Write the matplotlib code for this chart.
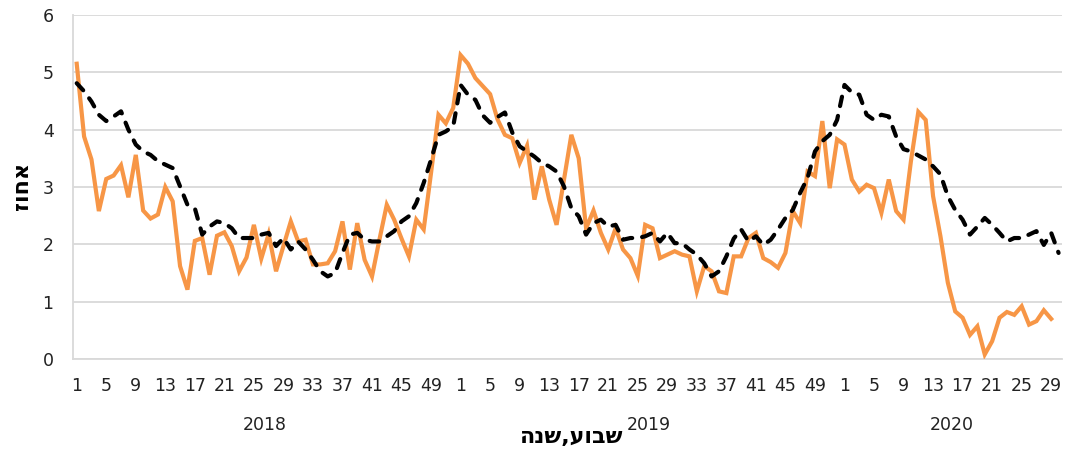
import numpy as np
import matplotlib
matplotlib.use('Agg')
import matplotlib.pyplot as plt

# week numbers per year (categories on the x axis)
years = ['2018', '2019', '2020']
weeks_per_year = [52, 52, 30]

# orange solid series (ends one week before the dashed one)
actual = [
    5.15, 3.88, 3.48, 2.58, 3.14, 3.20, 3.38, 2.82, 3.56, 2.59, 2.45, 2.52, 3.00,
    2.75, 1.62, 1.21, 2.06, 2.11, 1.47, 2.15, 2.21, 1.97, 1.53, 1.77, 2.34, 1.75,
    2.18, 1.53, 1.97, 2.40, 2.05, 2.08, 1.65, 1.65, 1.67, 1.88, 2.40, 1.56, 2.37,
    1.73, 1.44, 2.08, 2.69, 2.43, 2.10, 1.79, 2.43, 2.26, 3.25, 4.26, 4.11, 4.38,
    5.30, 5.15, 4.90, 4.76, 4.62, 4.18, 3.91, 3.85, 3.42, 3.72, 2.78, 3.36, 2.78,
    2.34, 3.12, 3.91, 3.50, 2.28, 2.59, 2.20, 1.91, 2.28, 1.91, 1.76, 1.45, 2.34,
    2.28, 1.76, 1.82, 1.88, 1.82, 1.79, 1.18, 1.62, 1.53, 1.18, 1.15, 1.79, 1.79,
    2.11, 2.20, 1.76, 1.69, 1.59, 1.85, 2.58, 2.37, 3.27, 3.19, 4.15, 2.98, 3.83,
    3.74, 3.13, 2.92, 3.04, 2.98, 2.55, 3.13, 2.58, 2.43, 3.45, 4.31, 4.17, 2.84,
    2.14, 1.33, 0.83, 0.72, 0.42, 0.57, 0.08, 0.31, 0.72, 0.82, 0.77, 0.92, 0.60,
    0.66, 0.85, 0.70,
]

# black dashed series
baseline = [
    4.81, 4.67, 4.49, 4.26, 4.15, 4.23, 4.32, 4.00, 3.74, 3.62, 3.56, 3.45, 3.39,
    3.33, 3.01, 2.69, 2.63, 2.17, 2.31, 2.40, 2.37, 2.28, 2.11, 2.11, 2.11, 2.17,
    2.20, 1.97, 2.11, 1.91, 2.05, 1.91, 1.73, 1.53, 1.44, 1.50, 1.85, 2.17, 2.20,
    2.08, 2.05, 2.05, 2.14, 2.23, 2.40, 2.49, 2.72, 3.07, 3.48, 3.91, 3.97, 4.06,
    4.78, 4.61, 4.52, 4.25, 4.12, 4.22, 4.30, 3.95, 3.71, 3.62, 3.53, 3.42, 3.36,
    3.27, 3.01, 2.63, 2.49, 2.17, 2.37, 2.43, 2.31, 2.34, 2.08, 2.11, 2.11, 2.14,
    2.20, 2.05, 2.20, 2.02, 2.02, 1.91, 1.82, 1.67, 1.44, 1.53, 1.79, 2.10, 2.26,
    2.05, 2.14, 1.99, 2.08, 2.26, 2.46, 2.60, 2.90, 3.16, 3.62, 3.80, 3.91, 4.17,
    4.78, 4.65, 4.61, 4.26, 4.17, 4.26, 4.23, 3.88, 3.66, 3.62, 3.55, 3.48, 3.36,
    3.22, 2.84, 2.60, 2.43, 2.17, 2.31, 2.46, 2.34, 2.20, 2.05, 2.11, 2.11, 2.17,
    2.23, 1.99, 2.20, 1.85,
]

week_labels = []
for n in weeks_per_year:
    week_labels += list(range(1, n + 1))
n_cat = len(week_labels)

fig = plt.figure(figsize=(10.66, 4.53), dpi=100)
ax = fig.add_axes([0.0685, 0.2075, 0.928, 0.7594])

grid_col = '#d9d9d9'
ax.plot(np.arange(len(actual)), actual, color='#f79646', lw=3.0,
        solid_joinstyle='miter', zorder=3)
ax.plot(np.arange(len(baseline)), baseline, color='black', lw=3.0,
        linestyle=(0, (2.3, 2.4)), dash_capstyle='round', zorder=4)

ax.set_xlim(-0.5, n_cat - 0.5)
ax.set_ylim(0, 6)
ax.set_yticks(range(0, 7))
ticks = [i for i in range(n_cat) if week_labels[i] % 4 == 1]
ax.set_xticks(ticks)
ax.set_xticklabels([str(week_labels[i]) for i in ticks])
ax.tick_params(axis='both', length=0, labelsize=12.5, colors='#222222')
ax.tick_params(axis='x', pad=13)
ax.tick_params(axis='y', pad=14)

ax.grid(axis='y', color=grid_col, lw=1.3)
ax.set_axisbelow(True)
for s in ['top', 'right']:
    ax.spines[s].set_visible(False)
ax.spines['left'].set_color(grid_col)
ax.spines['bottom'].set_color(grid_col)
ax.spines['left'].set_linewidth(1.3)
ax.spines['bottom'].set_linewidth(1.3)

# year labels under each group of weeks
start = 0
for yr, n in zip(years, weeks_per_year):
    mid = start + (n - 1) / 2.0
    ax.text(mid, -1.15, yr, ha='center', va='center', fontsize=12.5,
            color='#222222', transform=ax.transData)
    start += n

# hebrew titles, reversed so they read right to left
fig.text(0.536, 0.035, 'הנש,עובש', ha='center', va='center',
         fontsize=16, fontweight='bold', family='DejaVu Sans')
fig.text(0.021, 0.59, 'זוחא', ha='center', va='center', rotation=90,
         fontsize=16, fontweight='bold', family='DejaVu Sans')

plt.savefig('out.png', dpi=100)
